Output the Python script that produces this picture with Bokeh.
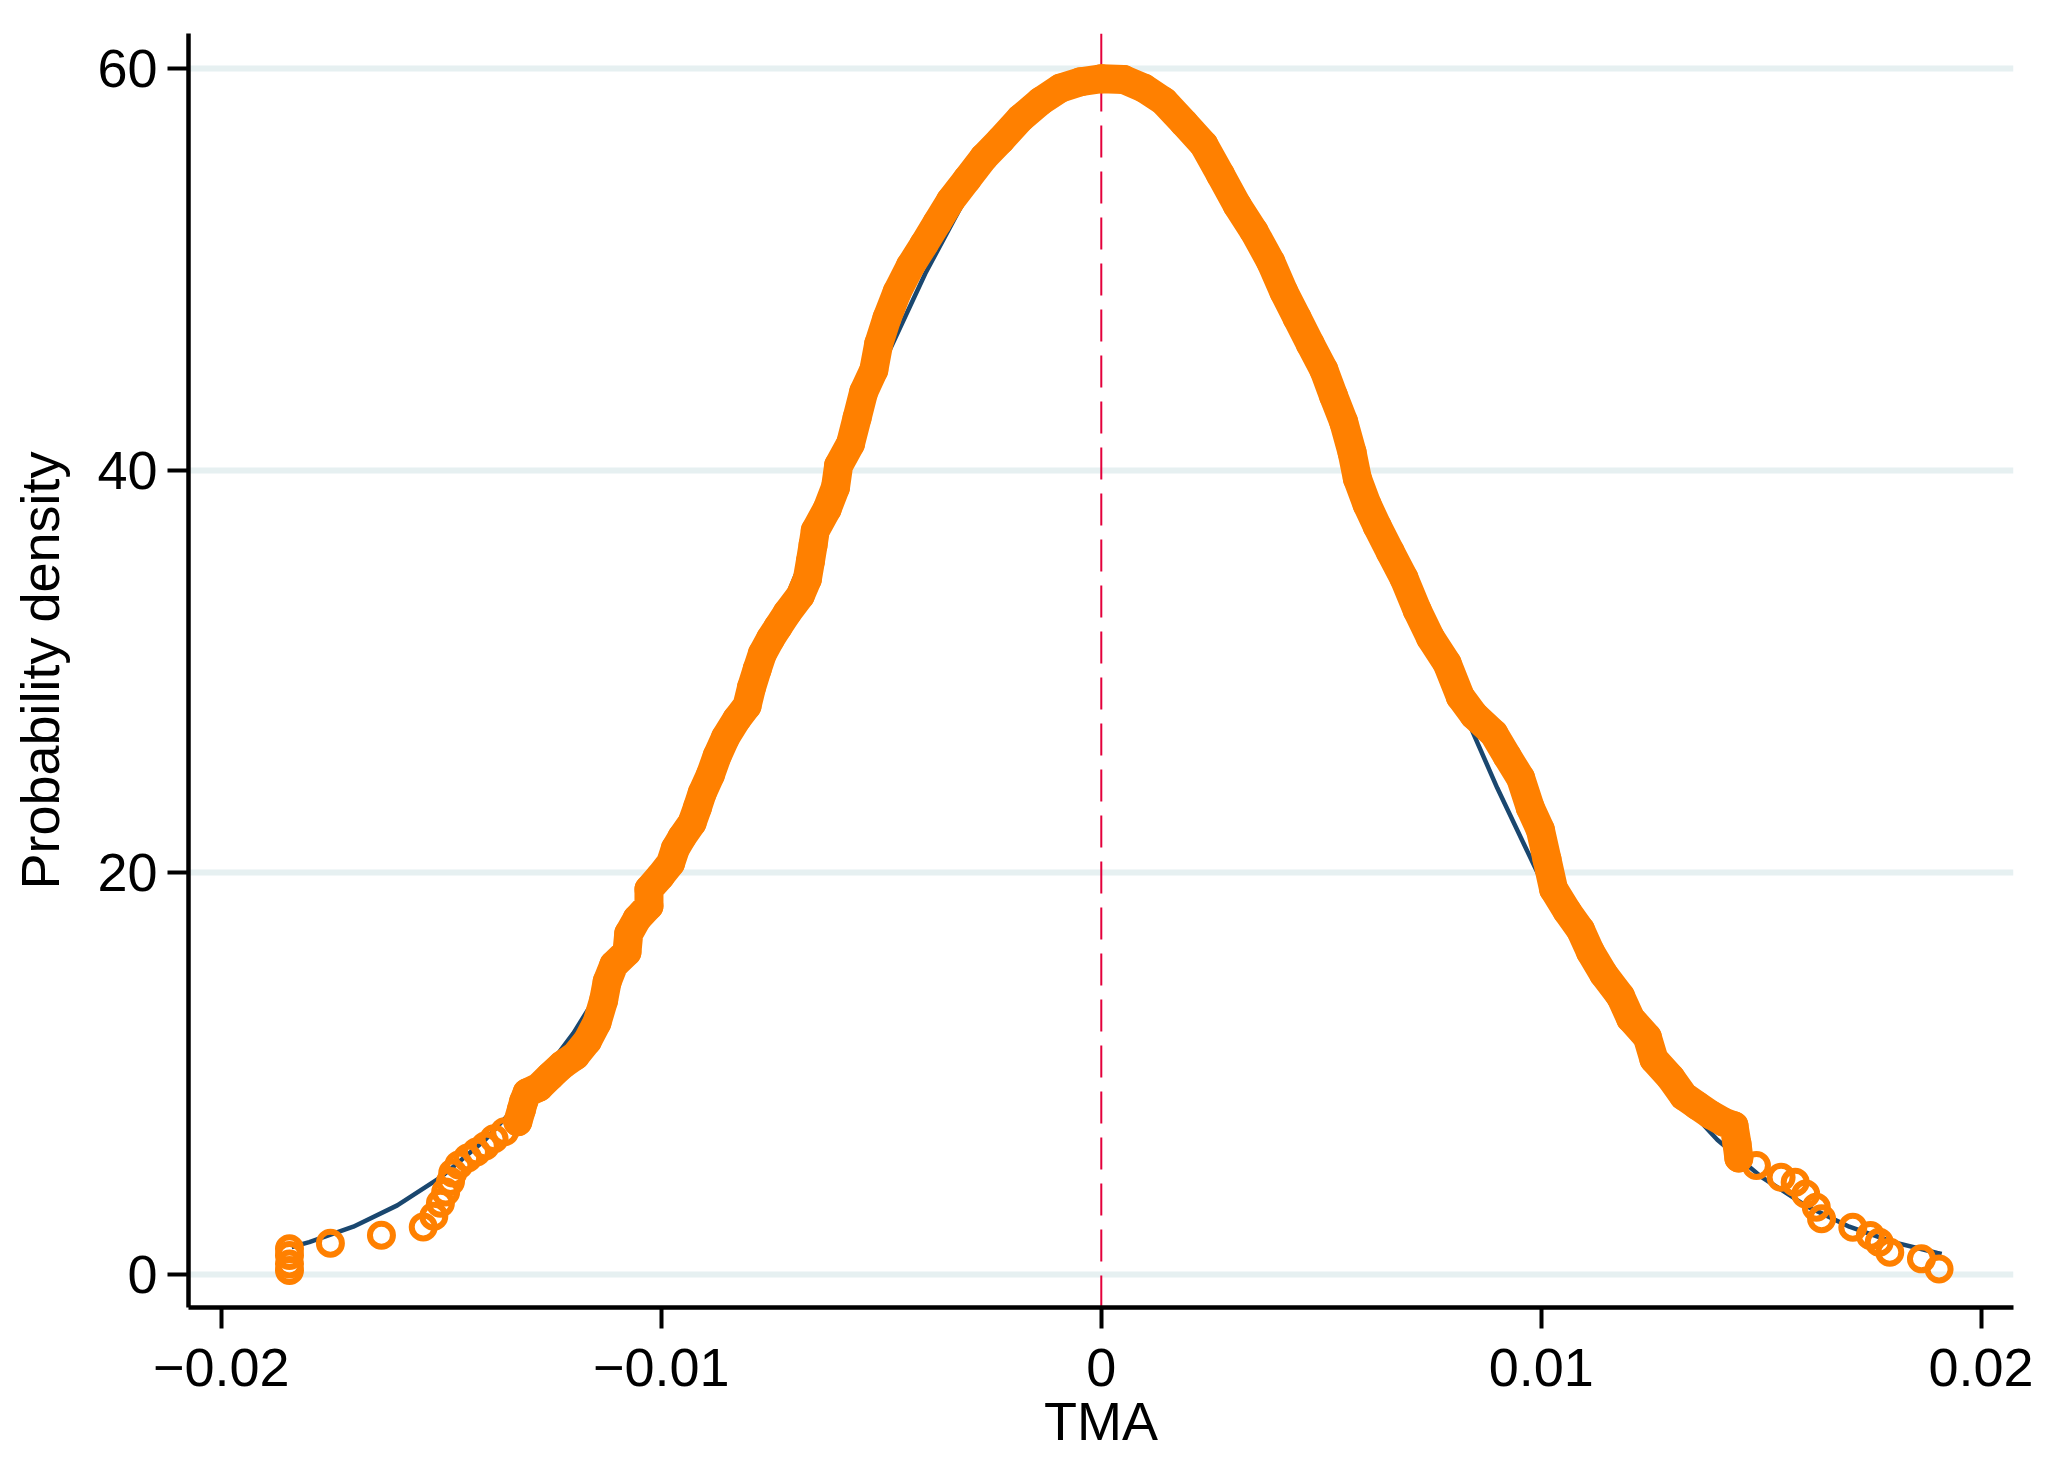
from bokeh.plotting import figure
from bokeh.models import Range1d, FixedTicker, Span, ColumnDataSource
from bokeh.embed import file_html
from bokeh.resources import INLINE

# ---------------- data ----------------
x_ticks = [-0.02, -0.01, 0.0, 0.01, 0.02]
x_tick_labels = ["\u22120.02", "\u22120.01", "0", "0.01", "0.02"]
y_ticks = [0, 20, 40, 60]
y_tick_labels = ["0", "20", "40", "60"]
x_title = "TMA"
y_title = "Probability density"

# kernel density estimate (orange hollow circles)
kde_x = [-0.01845, -0.01845, -0.01845, -0.01845, -0.01752, -0.01636, -0.01541,
         -0.01517, -0.01502, -0.01490, -0.01479, -0.01474, -0.01460, -0.01440,
         -0.01420, -0.01400, -0.01380, -0.01356, -0.01326, -0.01318, -0.01313,
         -0.01305, -0.01278, -0.01252, -0.01225, -0.01195, -0.01168, -0.01146,
         -0.01131, -0.01123, -0.01108, -0.01078, -0.01074, -0.01055, -0.01028,
         -0.01028, -0.01002, -0.00979, -0.00968, -0.00953, -0.00930, -0.00918,
         -0.00907, -0.00888, -0.00873, -0.00854, -0.00828, -0.00805, -0.00795,
         -0.00782, -0.00770, -0.00752, -0.00735, -0.00714, -0.00684, -0.00668,
         -0.00661, -0.00655, -0.00650, -0.00623, -0.00604, -0.00597, -0.00570,
         -0.00555, -0.00540, -0.00517, -0.00506, -0.00487, -0.00464, -0.00434,
         -0.00403, -0.00373, -0.00343, -0.00305, -0.00267, -0.00229, -0.00184,
         -0.00138, -0.00093, -0.00047, 0.00000, 0.00051, 0.00097, 0.00142,
         0.00188, 0.00233, 0.00271, 0.00309, 0.00347, 0.00385, 0.00415, 0.00445,
         0.00475, 0.00506, 0.00528, 0.00551, 0.00570, 0.00582, 0.00604, 0.00627,
         0.00657, 0.00688, 0.00718, 0.00748, 0.00786, 0.00816, 0.00847, 0.00892,
         0.00922, 0.00953, 0.00975, 0.00998, 0.01013, 0.01028, 0.01059, 0.01089,
         0.01112, 0.01142, 0.01180, 0.01203, 0.01241, 0.01256, 0.01294, 0.01324,
         0.01354, 0.01385, 0.01415, 0.01438, 0.01445, 0.01449, 0.01489, 0.01545,
         0.01577, 0.01601, 0.01625, 0.01637, 0.01708, 0.01748, 0.01768, 0.01792,
         0.01864, 0.01904]
kde_y = [0.20, 0.53, 0.95, 1.28, 1.56, 1.96, 2.37,
         2.90, 3.55, 4.10, 4.63, 5.05, 5.45, 5.80,
         6.10, 6.40, 6.75, 7.10, 7.60, 8.20, 8.60,
         9.04, 9.32, 9.88, 10.43, 10.89, 11.62, 12.54,
         13.65, 14.57, 15.40, 16.04, 16.96, 17.70, 18.34,
         19.17, 19.82, 20.46, 21.19, 21.75, 22.48, 23.22,
         23.96, 24.88, 25.80, 26.72, 27.64, 28.30, 29.20,
         30.11, 30.90, 31.62, 32.20, 32.91, 33.78, 34.60,
         35.50, 36.30, 37.01, 38.09, 39.17, 40.25, 41.33,
         42.62, 43.91, 45.00, 46.29, 47.59, 48.88, 50.17,
         51.25, 52.33, 53.41, 54.49, 55.57, 56.43, 57.51,
         58.37, 59.02, 59.34, 59.49, 59.45, 59.02, 58.37,
         57.29, 56.21, 54.71, 53.19, 51.90, 50.39, 48.88, 47.59,
         46.29, 45.00, 43.70, 42.41, 40.90, 39.60, 38.31, 37.23,
         35.94, 34.64, 33.05, 31.69, 30.40, 28.75, 27.83, 26.91,
         25.80, 24.70, 23.22, 22.12, 20.65, 19.17, 18.07, 17.15,
         16.04, 14.94, 13.84, 12.74, 11.81, 10.71, 9.79, 8.87,
         8.41, 7.95, 7.58, 7.40, 6.48, 5.80, 5.42, 4.84,
         4.59, 4.01, 3.35, 2.77, 2.35, 1.94, 1.61, 1.11,
         0.78, 0.28]

# normal density overlay (navy line)
norm_x = [-0.0184, -0.018, -0.017, -0.016, -0.015, -0.014, -0.013, -0.012,
          -0.011, -0.010, -0.009, -0.008, -0.007, -0.006, -0.005, -0.004,
          -0.003, -0.002, -0.001, 0.000, 0.001, 0.002, 0.003, 0.004, 0.005,
          0.006, 0.007, 0.008, 0.009, 0.010, 0.011, 0.012, 0.013, 0.014,
          0.015, 0.016, 0.017, 0.018, 0.019, 0.0191]
norm_y = [1.37, 1.61, 2.38, 3.44, 4.86, 6.71, 9.07, 12.0,
          15.5, 19.6, 24.2, 29.2, 34.5, 39.9, 45.1, 49.8,
          53.9, 56.9, 58.9, 59.5, 58.9, 56.9, 53.9, 49.8, 45.1,
          39.9, 34.5, 29.2, 24.2, 19.6, 15.5, 12.0, 9.07, 6.71,
          4.86, 3.44, 2.38, 1.61, 1.07, 1.02]

ref_line_x = 0.0

# ---------------- styling ----------------
FONT = "Liberation Sans"
ORANGE = "#ff8000"
NAVY = "#1a476f"
GRID = "#e6f0f1"
REDLINE = "#e4003b"

p = figure(
    frame_width=1825, frame_height=1274,
    x_range=Range1d(-0.020745, 0.020732),
    y_range=Range1d(-1.64, 61.74),
    output_backend="svg", toolbar_location=None,
    min_border_left=188, min_border_top=33, min_border_right=20,
    min_border_bottom=10,
    background_fill_color="white", border_fill_color="white",
)
p.outline_line_color = None

# grid
p.xgrid.visible = False
p.ygrid.ticker = FixedTicker(ticks=y_ticks)
p.ygrid.grid_line_color = GRID
p.ygrid.grid_line_width = 6

# axes
p.xaxis.ticker = FixedTicker(ticks=x_ticks)
p.yaxis.ticker = FixedTicker(ticks=y_ticks)
p.xaxis.major_label_overrides = {t: l for t, l in zip(x_ticks, x_tick_labels)}
p.yaxis.major_label_overrides = {t: l for t, l in zip(y_ticks, y_tick_labels)}
for ax in (p.xaxis[0], p.yaxis[0]):
    ax.axis_line_color = "black"
    ax.axis_line_width = 4.5
    ax.major_tick_line_color = "black"
    ax.major_tick_line_width = 4
    ax.major_tick_out = 21
    ax.major_tick_in = 0
    ax.minor_tick_line_color = None
    ax.major_label_text_font = FONT
    ax.major_label_text_font_size = "54px"
    ax.major_label_text_color = "black"
    ax.axis_label_text_font = FONT
    ax.axis_label_text_font_size = "54px"
    ax.axis_label_text_font_style = "normal"
    ax.axis_label_text_color = "black"
p.yaxis.major_label_orientation = "horizontal"
p.xaxis.major_label_standoff = 20
p.yaxis.major_label_standoff = 10
p.xaxis.axis_label = x_title
p.yaxis.axis_label = y_title
p.xaxis.axis_label_standoff = 2
p.yaxis.axis_label_standoff = 24

# vertical dashed reference line at 0
p.add_layout(Span(location=ref_line_x, dimension="height", line_color=REDLINE,
                  line_width=2, line_dash="32 14", level="underlay"))

# normal density line
p.line(norm_x, norm_y, line_color=NAVY, line_width=4.5)

# KDE: dense body drawn as a thick band, all points as hollow circles
src = ColumnDataSource(dict(x=kde_x, y=kde_y))
body = [(xx, yy) for xx, yy in zip(kde_x, kde_y) if -0.0133 <= xx <= 0.0145]
p.line([b[0] for b in body], [b[1] for b in body], line_color=ORANGE,
       line_width=29, line_join="round", line_cap="round")
p.scatter("x", "y", source=src, marker="circle", size=23,
          fill_color=None, line_color=ORANGE, line_width=6)

open("out.html", "w").write(file_html(p, INLINE))
